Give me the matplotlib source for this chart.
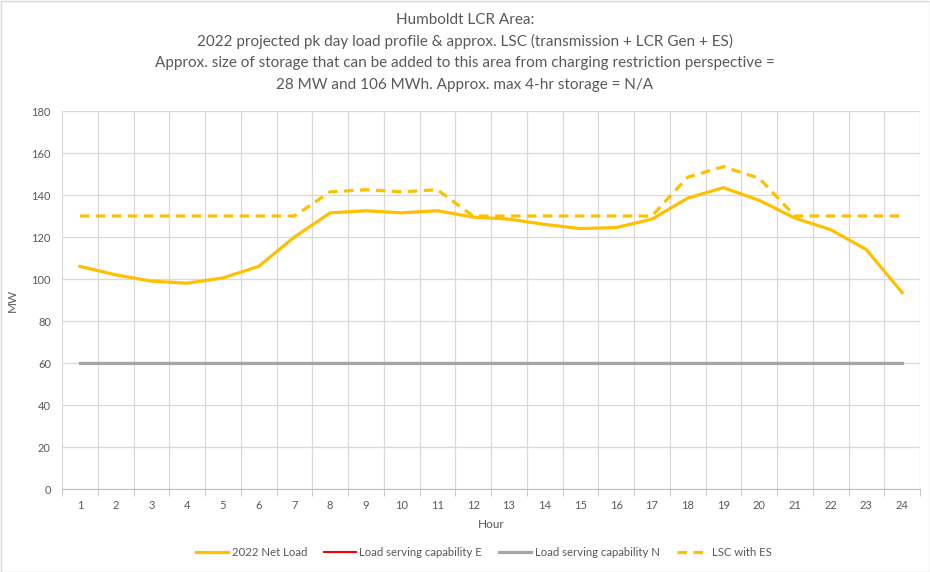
import matplotlib.pyplot as plt
from matplotlib.patches import Rectangle

# data
hours = list(range(1, 25))
net_load = [106, 102, 99, 98, 100.5, 106, 120, 131.5, 132.5, 131.5, 132.5, 129.5,
            128.5, 126, 124, 124.5, 128.5, 138.5, 143.5, 137.5, 129, 123.5, 114, 93.5]
cap_e = [60] * 24
cap_n = [60] * 24
lsc_es = [130, 130, 130, 130, 130, 130, 130, 141.5, 142.5, 141.5, 142.5, 130,
          130, 130, 130, 130, 130, 148.5, 153.5, 148, 130, 130, 130, 130]

title_lines = [
    "Humboldt LCR Area:",
    "2022 projected pk day load profile & approx. LSC (transmission + LCR Gen + ES)",
    "Approx. size of storage that can be added to this area from charging restriction perspective =",
    "28 MW and 106 MWh. Approx. max 4-hr storage = N/A",
]

plt.rcParams['font.family'] = ['Lato', 'DejaVu Sans']
text_col = '#595959'
grid_col = '#D9D9D9'

fig = plt.figure(figsize=(9.3, 5.72), dpi=100)
W, H = 930, 572
ax = fig.add_axes([62 / W, 1 - 489 / H, (920 - 62) / W, (489 - 111) / H])

# outer chart border
fig.patches.append(Rectangle((0.5 / W, 0.5 / H), 1 - 1 / W, 1 - 1 / H, transform=fig.transFigure,
                             fill=False, edgecolor='#D9D9D9', linewidth=1))

ax.plot(hours, net_load, color='#FFC000', lw=2.3, label='2022 Net Load', zorder=4)
ax.plot(hours, cap_e, color='#FF0000', lw=1.5, label='Load serving capability E', zorder=2)
ax.plot(hours, cap_n, color='#A5A5A5', lw=2.3, label='Load serving capability N', zorder=3)
ax.plot(hours, lsc_es, color='#FFC000', lw=2.3, ls=(0, (3, 2)), label='LSC with ES', zorder=4)

ax.set_xlim(0.5, 24.5)
ax.set_ylim(0, 180)
ax.set_yticks(range(0, 181, 20))
ax.set_xticks(hours)
ax.set_xticks([h + 0.5 for h in range(0, 25)], minor=True)
ax.grid(True, which='major', axis='y', color=grid_col, lw=0.9)
ax.grid(True, which='minor', axis='x', color=grid_col, lw=0.9)
ax.set_axisbelow(True)
ax.tick_params(axis='x', which='major', length=0, labelsize=8, labelcolor=text_col, pad=8)
ax.tick_params(axis='x', which='minor', length=5, color='#BFBFBF', direction='out')
ax.tick_params(axis='y', length=0, labelsize=8, labelcolor=text_col, pad=8)
for s in ['top', 'right', 'left']:
    ax.spines[s].set_visible(False)
ax.spines['bottom'].set_color('#BFBFBF')

ax.set_xlabel('Hour', fontsize=8.5, color=text_col, labelpad=6)
ax.set_ylabel('MW', fontsize=8.5, color=text_col, labelpad=10)

for i, line in enumerate(title_lines):
    fig.text(0.5, 1 - (20 + i * 21.5) / H, line, ha='center', va='center',
             fontsize=11, color=text_col)

fig.legend(loc='center', bbox_to_anchor=(484 / W, 1 - 552 / H), ncol=4, frameon=False,
           fontsize=8.2, labelcolor=text_col, handlelength=2.8, columnspacing=1.5,
           handletextpad=0.3)

fig.savefig('out.png', dpi=100)
